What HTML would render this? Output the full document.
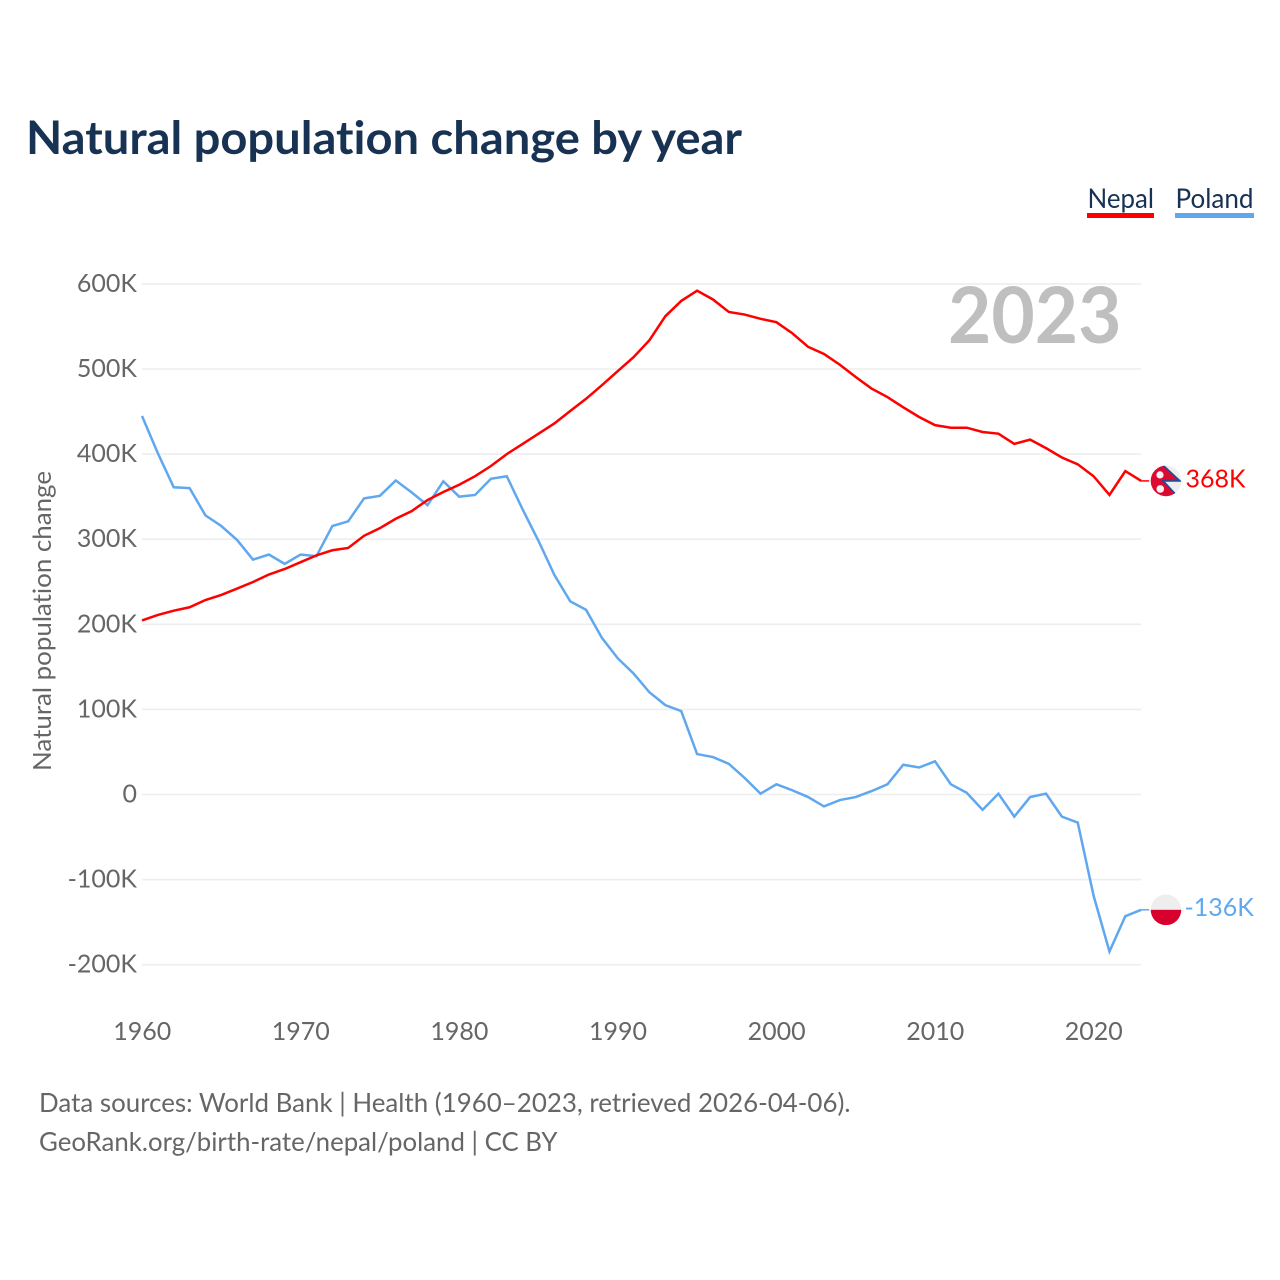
<!DOCTYPE html>
<html lang="en">
<head>
<meta charset="utf-8">
<title>Natural population change by year</title>
<style>
html,body{margin:0;padding:0;background:#fff;}
svg{display:block;font-family:"Lato","Carlito","Liberation Sans",sans-serif;font-variant-ligatures:none;}
.tick{font-size:25px;fill:#666;}
</style>
</head>
<body>
<svg id="chart" xmlns="http://www.w3.org/2000/svg" width="1280" height="1280" viewBox="0 0 1280 1280">
  <rect x="0" y="0" width="1280" height="1280" fill="#fff"/>
  <text x="26" y="154" font-size="46" font-weight="700" fill="#173252" textLength="716" lengthAdjust="spacingAndGlyphs">Natural population change by year</text>

  <g>
    <text x="1087.500" y="208" font-size="27" fill="#173252" textLength="66.500" lengthAdjust="spacingAndGlyphs">Nepal</text>
    <rect x="1087" y="213" width="67" height="5" fill="#ff0000"/>
  </g>
  <g>
    <text x="1175.500" y="208" font-size="27" fill="#173252" textLength="78" lengthAdjust="spacingAndGlyphs">Poland</text>
    <rect x="1175" y="213" width="79" height="5" fill="#5fa8ef"/>
  </g>

  <text transform="translate(51,771) rotate(-90)" font-size="25.500" fill="#666" textLength="300" lengthAdjust="spacingAndGlyphs">Natural population change</text>

  <g id="grid"></g>
  <g id="yTicksG"></g>
  <g id="xTicksG"></g>

  <text x="948" y="343" font-size="78" font-weight="700" fill="#bfbfbf" textLength="173.500" lengthAdjust="spacingAndGlyphs">2023</text>

  <g id="seriesG"></g>

  <defs>
    <clipPath id="nepalClip"><circle id="nepalClipCircle" cx="0" cy="0" r="15.3"/></clipPath>
    <clipPath id="polandClip"><circle id="polandClipCircle" cx="0" cy="0" r="15.3"/></clipPath>
  </defs>

  <g id="nepalFlag">
    <g clip-path="url(#nepalClip)">
      <circle cx="0" cy="0" r="16" fill="#eeeeee"/>
      <polygon points="-20,-24 -2.7,-15.5 14,0 -2.7,0 10.7,14.5 2,16 -20,20" fill="#dc0a32" stroke="#1b4f9c" stroke-width="1.6"/>
      <circle cx="-6" cy="-6" r="3.6" fill="#f3f3f3"/>
      <circle cx="-5.700" cy="8" r="3.8" fill="#f3f3f3"/>
    </g>
  </g>
  <g id="polandFlag">
    <g clip-path="url(#polandClip)">
      <rect x="-16" y="-16" width="32" height="16" fill="#eeeeee"/>
      <rect x="-16" y="0" width="32" height="16" fill="#d8002c"/>
    </g>
  </g>

  <text id="nepalValue" x="1185.5" font-size="25" fill="#ff0000"></text>
  <text id="polandValue" x="1184.5" font-size="25" fill="#5fa8ef"></text>

  <text x="39" y="1112" font-size="26" fill="#666" textLength="811.500" lengthAdjust="spacingAndGlyphs">Data sources: World Bank | Health (1960–2023, retrieved 2026-04-06).</text>
  <text x="39" y="1151" font-size="26" fill="#666" textLength="518.500" lengthAdjust="spacingAndGlyphs">GeoRank.org/birth-rate/nepal/poland | CC BY</text>
</svg>
<script>
const years = [1960,1961,1962,1963,1964,1965,1966,1967,1968,1969,1970,1971,1972,1973,1974,1975,1976,1977,1978,1979,1980,1981,1982,1983,1984,1985,1986,1987,1988,1989,1990,1991,1992,1993,1994,1995,1996,1997,1998,1999,2000,2001,2002,2003,2004,2005,2006,2007,2008,2009,2010,2011,2012,2013,2014,2015,2016,2017,2018,2019,2020,2021,2022,2023];
const nepalValues = [204.5,211,216,220,228.5,234.5,242,249.7,258.5,265,273,281,287,289.7,304,313,324,333,346,355.5,364,374,386,400,412,424,436,450.6,465,481,497.6,514,534,562,580,592,581.7,567,564,559,555,542,526,517.6,505,490.6,477,467,455,443.6,434,431,431,426,424,412,417,407,396,388,374,352,380,368.5];
const polandValues = [444.8,401,361,360,328,315.5,299,276,282,271,282,280,315.5,321,348,351,369,355,340,368,350,352,371,374,335,298,258,227,217,184,160,142,120,105,98,47.5,44,36,19.4,1,12,5,-3,-14,-6.5,-3,4,12,35,31.7,39,12,2,-18,1,-26,-3,1,-26,-33,-119,-184.5,-143,-135.5];
const yTickValues = [600,500,400,300,200,100,0,-100,-200];
const yTickLabels = ["600K","500K","400K","300K","200K","100K","0","-100K","-200K"];
const xTickValues = [1960,1970,1980,1990,2000,2010,2020];
const xTickLabels = ["1960","1970","1980","1990","2000","2010","2020"];
const endLabels = ["368K","-136K"];

const NS = "http://www.w3.org/2000/svg";
function xScale(year){ return 142 + (year - 1960) * 15.86; }
function yScale(value){ return 794.5 - value * 0.851; }
function make(tag, parent){
  const el = document.createElementNS(NS, tag);
  parent.appendChild(el);
  return el;
}

const gridG = document.getElementById("grid");
const yG = document.getElementById("yTicksG");
yTickValues.forEach(function(v, i){
  const line = make("line", gridG);
  
  
  line.setAttribute("x1", xScale(1960));
  line.setAttribute("x2", xScale(2023));
  line.setAttribute("y1", yScale(v));
  line.setAttribute("y2", yScale(v));
  line.setAttribute("stroke", "#eeeeee");
  line.setAttribute("stroke-width", "1.6");
  const t = make("text", yG);
  
  
  t.setAttribute("class", "tick");
  t.setAttribute("x", 137);
  t.setAttribute("y", yScale(v) + 8);
  t.setAttribute("text-anchor", "end");
  t.textContent = yTickLabels[i];
});

const xG = document.getElementById("xTicksG");
xTickValues.forEach(function(v, i){
  const t = make("text", xG);
  
  
  t.setAttribute("class", "tick");
  t.setAttribute("x", xScale(v) + 0.2);
  t.setAttribute("y", 1040);
  t.setAttribute("text-anchor", "middle");
  t.textContent = xTickLabels[i];
});

function pointsFor(values){
  return values.map(function(v, i){
    return xScale(years[i]).toFixed(2) + "," + yScale(v).toFixed(2);
  }).join(" ");
}
const seriesG = document.getElementById("seriesG");

const polandLine = make("polyline", seriesG);


polandLine.setAttribute("points", pointsFor(polandValues));
polandLine.setAttribute("fill", "none");
polandLine.setAttribute("stroke", "#5fa8ef");
polandLine.setAttribute("stroke-width", "2.5");

const nepalLine = make("polyline", seriesG);


nepalLine.setAttribute("points", pointsFor(nepalValues));
nepalLine.setAttribute("fill", "none");
nepalLine.setAttribute("stroke", "#ff0000");
nepalLine.setAttribute("stroke-width", "2.5");

const lastX = xScale(years[years.length - 1]);
const nepalY = yScale(nepalValues[nepalValues.length - 1]);
const polandY = yScale(polandValues[polandValues.length - 1]);

const nepalConnector = make("line", seriesG);


nepalConnector.setAttribute("x1", lastX);
nepalConnector.setAttribute("x2", lastX + 8);
nepalConnector.setAttribute("y1", nepalY);
nepalConnector.setAttribute("y2", nepalY);
nepalConnector.setAttribute("stroke", "#ff0000");
nepalConnector.setAttribute("stroke-width", "1.5");

const polandConnector = make("line", seriesG);


polandConnector.setAttribute("x1", lastX);
polandConnector.setAttribute("x2", lastX + 8);
polandConnector.setAttribute("y1", polandY);
polandConnector.setAttribute("y2", polandY);
polandConnector.setAttribute("stroke", "#5fa8ef");
polandConnector.setAttribute("stroke-width", "1.5");

const flagX = lastX + 24.8;
document.getElementById("nepalFlag").setAttribute("transform", "translate(" + flagX + "," + nepalY + ")");
document.getElementById("polandFlag").setAttribute("transform", "translate(" + flagX + "," + polandY + ")");

const nepalValue = document.getElementById("nepalValue");
nepalValue.setAttribute("y", nepalY + 6.5);
nepalValue.textContent = endLabels[0];
const polandValue = document.getElementById("polandValue");
polandValue.setAttribute("y", polandY + 6);
polandValue.textContent = endLabels[1];
</script>
</body>
</html>
